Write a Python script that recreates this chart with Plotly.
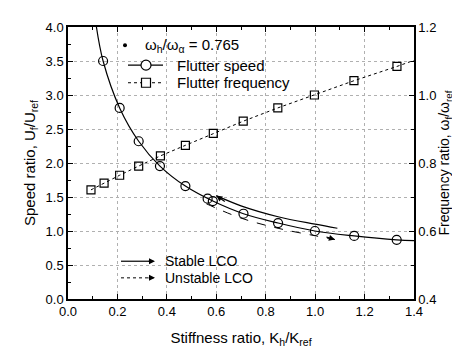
import plotly.graph_objects as go

# ---- data ----
speed_k = [0.142, 0.209, 0.286, 0.372, 0.475, 0.565, 0.586, 0.71, 0.85, 0.999, 1.158, 1.33]
speed_u = [3.50, 2.81, 2.32, 1.955, 1.66, 1.475, 1.44, 1.254, 1.117, 1.00, 0.928, 0.87]
# fitted curve drawn through the points
curve_k = [0.115, 0.142, 0.209, 0.286, 0.372, 0.475, 0.586, 0.71, 0.85, 0.999, 1.158, 1.33, 1.40]
curve_u = [4.00, 3.50, 2.81, 2.32, 1.955, 1.66, 1.44, 1.254, 1.117, 1.00, 0.928, 0.87, 0.857]

freq_k = [0.093, 0.146, 0.209, 0.286, 0.374, 0.475, 0.588, 0.709, 0.849, 0.997, 1.157, 1.331]
freq_w = [0.721, 0.741, 0.764, 0.791, 0.821, 0.852, 0.887, 0.923, 0.962, 1.000, 1.042, 1.084]
freq_line_k = freq_k + [1.40]
freq_line_w = freq_w + [1.102]

stable_k = [0.60, 0.70, 0.85, 1.00, 1.09]
stable_u = [1.52, 1.37, 1.21, 1.10, 1.04]
unstable_k = [0.56, 0.70, 0.85, 1.00, 1.08]
unstable_u = [1.40, 1.19, 1.04, 0.93, 0.875]

x_ticks = [0.0, 0.2, 0.4, 0.6, 0.8, 1.0, 1.2, 1.4]
y_ticks = [0.0, 0.5, 1.0, 1.5, 2.0, 2.5, 3.0, 3.5, 4.0]
y2_ticks = [0.4, 0.6, 0.8, 1.0, 1.2]

FONT = "Liberation Sans, Arial, sans-serif"

fig = go.Figure()
fig.add_trace(go.Scatter(x=curve_k, y=curve_u, mode="lines", line=dict(color="black", width=1.2, shape="spline"),
                         showlegend=False, hoverinfo="skip"))
fig.add_trace(go.Scatter(x=speed_k, y=speed_u, mode="markers",
                         marker=dict(symbol="circle-open", size=9, color="black", line=dict(width=1.2)),
                         showlegend=False))
fig.add_trace(go.Scatter(x=freq_line_k, y=freq_line_w, mode="lines", yaxis="y2",
                         line=dict(color="black", width=1, dash="dot"), showlegend=False, hoverinfo="skip"))
fig.add_trace(go.Scatter(x=freq_k, y=freq_w, mode="markers", yaxis="y2",
                         marker=dict(symbol="square-open", size=8, color="black", line=dict(width=1.2)),
                         showlegend=False))
fig.add_trace(go.Scatter(x=stable_k, y=stable_u, mode="lines", line=dict(color="black", width=1.2, shape="spline"),
                         showlegend=False, hoverinfo="skip"))
fig.add_trace(go.Scatter(x=unstable_k, y=unstable_u, mode="lines",
                         line=dict(color="black", width=1, dash="dash", shape="spline"),
                         showlegend=False, hoverinfo="skip"))

# arrowheads on the LCO paths
fig.add_annotation(x=stable_k[0], y=stable_u[0], ax=10, ay=7, xref="x", yref="y", text="",
                   showarrow=True, arrowhead=2, arrowsize=1, arrowwidth=1.2, arrowcolor="black")
fig.add_annotation(x=unstable_k[-1], y=unstable_u[-1], ax=-10, ay=-3, xref="x", yref="y", text="",
                   showarrow=True, arrowhead=2, arrowsize=1, arrowwidth=1.2, arrowcolor="black")


def px(X):
    return (X - 60) / 346


def py(Y):
    return (296 - Y) / 283


shapes = []
# manual legend (top)
shapes.append(dict(type="circle", xref="paper", yref="paper", xsizemode="pixel", ysizemode="pixel",
                   xanchor=px(117), yanchor=py(32), x0=-2, x1=2, y0=-2, y1=2,
                   fillcolor="black", line=dict(color="black", width=0)))
shapes.append(dict(type="line", xref="paper", yref="paper", x0=px(120), x1=px(155), y0=py(52.7), y1=py(52.7),
                   line=dict(color="black", width=1.2)))
shapes.append(dict(type="circle", xref="paper", yref="paper", xsizemode="pixel", ysizemode="pixel",
                   xanchor=px(138), yanchor=py(52.7), x0=-5, x1=5, y0=-5, y1=5,
                   fillcolor="white", line=dict(color="black", width=1.2)))
shapes.append(dict(type="line", xref="paper", yref="paper", x0=px(120), x1=px(155), y0=py(71), y1=py(71),
                   line=dict(color="black", width=1, dash="dot")))
shapes.append(dict(type="rect", xref="paper", yref="paper", xsizemode="pixel", ysizemode="pixel",
                   xanchor=px(138), yanchor=py(71), x0=-4.5, x1=4.5, y0=-4.5, y1=4.5,
                   fillcolor="white", line=dict(color="black", width=1.2)))
# LCO legend (bottom)
shapes.append(dict(type="line", xref="paper", yref="paper", x0=px(113), x1=px(143), y0=py(256.7), y1=py(256.7),
                   line=dict(color="black", width=1.2)))
shapes.append(dict(type="line", xref="paper", yref="paper", x0=px(113), x1=px(143), y0=py(274), y1=py(274),
                   line=dict(color="black", width=1, dash="dot")))
for yy in (256.7, 274):
    fig.add_annotation(x=px(147), y=py(yy), xref="paper", yref="paper", ax=-8, ay=0, text="",
                       showarrow=True, arrowhead=2, arrowsize=1, arrowwidth=1.2, arrowcolor="black")

tf = dict(family=FONT, size=15, color="black")
fig.add_annotation(x=px(135), y=py(32), xref="paper", yref="paper", xanchor="left", yanchor="middle",
                   text="ω<sub>h</sub>/ω<sub>α</sub> = 0.765", showarrow=False, font=tf)
fig.add_annotation(x=px(167), y=py(52.7), xref="paper", yref="paper", xanchor="left", yanchor="middle",
                   text="Flutter speed", showarrow=False, font=tf)
fig.add_annotation(x=px(167), y=py(71), xref="paper", yref="paper", xanchor="left", yanchor="middle",
                   text="Flutter frequency", showarrow=False, font=tf)
fig.add_annotation(x=px(155), y=py(256.7), xref="paper", yref="paper", xanchor="left", yanchor="middle",
                   text="Stable LCO", showarrow=False, font=dict(family=FONT, size=14, color="black"))
fig.add_annotation(x=px(155), y=py(274), xref="paper", yref="paper", xanchor="left", yanchor="middle",
                   text="Unstable LCO", showarrow=False, font=dict(family=FONT, size=14, color="black"))

grid = dict(showgrid=True, gridcolor="#b0b0b0", griddash="dot", gridwidth=1)
tickf = dict(family=FONT, size=13, color="black")
titf = dict(family=FONT, size=15, color="black")

fig.update_layout(
    width=460, height=348,
    margin=dict(l=60, r=54, t=13, b=52),
    paper_bgcolor="white", plot_bgcolor="white",
    shapes=shapes,
    showlegend=False,
    xaxis=dict(range=[0, 1.4], tickvals=x_ticks, tickformat=".1f", ticks="inside", ticklen=5, tickwidth=1.2,
               minor=dict(dtick=0.1, ticks="inside", ticklen=3, tickcolor="black", showgrid=False),
               showline=True, linecolor="black", linewidth=1.5, mirror="ticks", zeroline=False,
               tickfont=tickf, tickcolor="black",
               title=dict(text="Stiffness ratio, K<sub>h</sub>/K<sub>ref</sub>", font=titf, standoff=14), **grid),
    yaxis=dict(range=[0, 4], tickvals=y_ticks, tickformat=".1f", ticks="inside", ticklen=5, tickwidth=1.2,
               minor=dict(dtick=0.25, ticks="inside", ticklen=3, tickcolor="black", showgrid=False),
               showline=True, linecolor="black", linewidth=1.5, mirror=True, zeroline=False,
               tickfont=tickf, tickcolor="black",
               title=dict(text="Speed ratio, U<sub>f</sub>/U<sub>ref</sub>", font=titf, standoff=6), **grid),
    yaxis2=dict(range=[0.4, 1.2], tickvals=y2_ticks, tickformat=".1f", overlaying="y", side="right",
                ticks="inside", ticklen=5, tickwidth=1.2, tickcolor="black",
                minor=dict(dtick=0.1, ticks="inside", ticklen=3, tickcolor="black", showgrid=False),
                showline=True, linecolor="black", linewidth=1.5, zeroline=False, showgrid=False,
                tickfont=tickf,
                title=dict(text="Frequency ratio, ω<sub>f</sub>/ω<sub>ref</sub>",
                           font=dict(family=FONT, size=14, color="black"), standoff=2)),
)

fig.write_html("out.html")
